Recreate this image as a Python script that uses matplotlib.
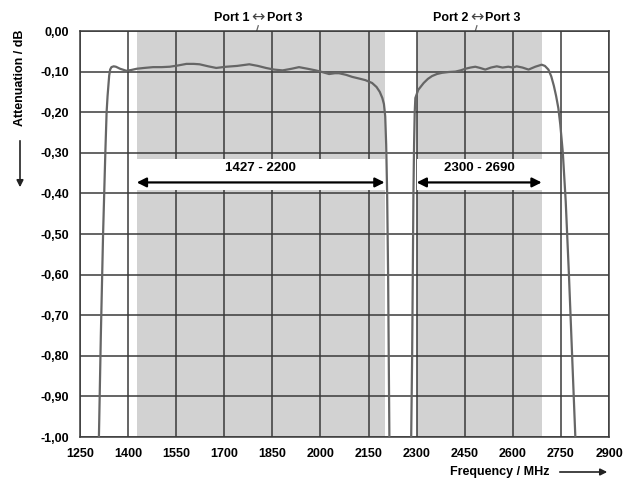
import matplotlib
matplotlib.use("Agg")
import matplotlib.pyplot as plt
from matplotlib.patches import Rectangle, FancyArrowPatch

plt.rcParams['font.family'] = ['Liberation Sans', 'DejaVu Sans']

# ---------------- data ----------------
x_ticks = [1250, 1400, 1550, 1700, 1850, 2000, 2150, 2300, 2450, 2600, 2750, 2900]
y_ticks = [0.0, -0.1, -0.2, -0.3, -0.4, -0.5, -0.6, -0.7, -0.8, -0.9, -1.0]
y_tick_labels = ["0,00", "-0,10", "-0,20", "-0,30", "-0,40", "-0,50",
                 "-0,60", "-0,70", "-0,80", "-0,90", "-1,00"]

band1 = (1427, 2200)
band2 = (2300, 2690)
band_labels = ["1427 - 2200", "2300 - 2690"]
port_left = ["Port 1", "Port 2"]
port_right = ["Port 3", "Port 3"]

freq1 = [1309, 1315, 1322, 1329, 1333, 1336, 1339, 1341, 1344, 1348, 1355, 1362,
         1375, 1395, 1410, 1427, 1450, 1478, 1505, 1530, 1555, 1582, 1605, 1623,
         1650, 1675, 1706, 1740, 1778, 1805, 1830, 1855, 1882, 1910, 1933, 1960,
         1985, 2005, 2027, 2045, 2058, 2080, 2099, 2120, 2140, 2161, 2175, 2185,
         2193, 2198, 2202, 2205, 2208, 2211, 2213, 2215]
att1 = [-1.0, -0.75, -0.5, -0.3, -0.2, -0.16, -0.13, -0.11, -0.095, -0.089, -0.087, -0.088,
        -0.093, -0.098, -0.096, -0.093, -0.091, -0.089, -0.089, -0.088, -0.085, -0.081, -0.081, -0.082,
        -0.087, -0.091, -0.088, -0.086, -0.082, -0.086, -0.091, -0.095, -0.097, -0.093, -0.089, -0.093,
        -0.097, -0.101, -0.106, -0.104, -0.104, -0.108, -0.113, -0.117, -0.121, -0.128, -0.138, -0.15,
        -0.165, -0.18, -0.21, -0.28, -0.4, -0.6, -0.8, -1.0]

freq2 = [2283, 2286, 2288, 2290, 2292, 2294, 2296, 2305, 2322, 2335, 2348, 2363, 2379,
         2400, 2421, 2437, 2452, 2468, 2483, 2498, 2514, 2532, 2550, 2568, 2586, 2600,
         2612, 2630, 2649, 2670, 2690, 2700, 2711, 2720, 2728, 2735, 2742, 2748, 2756,
         2765, 2775, 2785, 2795]
att2 = [-1.0, -0.8, -0.6, -0.4, -0.28, -0.2, -0.165, -0.145, -0.128, -0.118, -0.111, -0.106, -0.103,
        -0.101, -0.1, -0.097, -0.093, -0.09, -0.088, -0.091, -0.095, -0.09, -0.087, -0.09, -0.088, -0.09,
        -0.087, -0.09, -0.095, -0.088, -0.083, -0.086, -0.095, -0.112, -0.135, -0.16, -0.19, -0.23, -0.3,
        -0.42, -0.6, -0.8, -1.0]

# ---------------- style ----------------
GRID = "#3a3a3a"
CURVE = "#666666"
SHADE = "#d2d2d2"
band_top, band_bot = -0.315, -0.392
arrow_y, text_y = -0.373, -0.338
FS = 9

fig = plt.figure(figsize=(6.33, 4.84), dpi=100)
ax = fig.add_axes([80 / 633, 1 - 437 / 484, 529 / 633, 406 / 484])
ax.set_xlim(1250, 2900)
ax.set_ylim(-1.0, 0.0)

# shaded passbands
for lo, hi in (band1, band2):
    ax.axvspan(lo, hi, color=SHADE, lw=0, zorder=0)

# grid
ax.set_xticks(x_ticks)
ax.set_yticks(y_ticks)
ax.set_yticklabels(y_tick_labels)
ax.grid(True, color=GRID, lw=1.1, zorder=1)
ax.set_axisbelow(True)
ax.tick_params(length=0, labelsize=FS, pad=8)
for lab in ax.get_xticklabels() + ax.get_yticklabels():
    lab.set_fontweight('bold')
for s in ax.spines.values():
    s.set_color(GRID)
    s.set_linewidth(1.1)

# white band hiding grid behind the range arrows
for lo, hi in (band1, band2):
    ax.add_patch(Rectangle((lo, band_bot), hi - lo, band_top - band_bot,
                           facecolor="white", edgecolor="none", zorder=2))

# curves
ax.plot(freq1, att1, color=CURVE, lw=1.6, zorder=4)
ax.plot(freq2, att2, color=CURVE, lw=1.6, zorder=4)

# range arrows and texts
for (lo, hi), txt in zip((band1, band2), band_labels):
    ax.annotate("", xy=(lo, arrow_y), xytext=(hi, arrow_y),
                arrowprops=dict(arrowstyle="<|-|>", color="black", lw=1.6,
                                mutation_scale=14, shrinkA=0, shrinkB=0),
                zorder=5)
    ax.text((lo + hi) / 2, text_y, txt, ha="center", va="center",
            fontsize=FS + 0.5, fontweight="bold", zorder=5)

# port labels with leader lines
arrow_x = [1806, 2488]
for px, l, r in zip(arrow_x, port_left, port_right):
    ax.annotate("\u2194", xy=(px, 0.032), ha="center", va="center",
                fontsize=FS + 2.5, family=['DejaVu Sans'], color="#444444",
                annotation_clip=False)
    ax.annotate(l, xy=(px, 0.032), xytext=(-6, 0), textcoords="offset points",
                ha="right", va="center", fontsize=FS, fontweight="bold",
                annotation_clip=False)
    ax.annotate(r, xy=(px, 0.032), xytext=(6, 0), textcoords="offset points",
                ha="left", va="center", fontsize=FS, fontweight="bold",
                annotation_clip=False)
    ax.plot([px, px - 5], [0.013, 0.0], color=CURVE, lw=0.9, clip_on=False)

# axis titles with arrows
fig.text(20 / 633, 1 - 78 / 484, "Attenuation / dB", rotation=90,
         ha="center", va="center", fontsize=FS, fontweight="bold")
fig.add_artist(FancyArrowPatch(
    (20 / 633, 1 - 138 / 484), (20 / 633, 1 - 190 / 484),
    transform=fig.transFigure, arrowstyle="-|>", mutation_scale=10,
    color="#222222", lw=1.2))
fig.text(500 / 633, 1 - 472 / 484, "Frequency / MHz", ha="center", va="center",
         fontsize=FS, fontweight="bold")
fig.add_artist(FancyArrowPatch(
    (557 / 633, 1 - 472 / 484), (610 / 633, 1 - 472 / 484),
    transform=fig.transFigure, arrowstyle="-|>", mutation_scale=10,
    color="#222222", lw=1.2))

fig.savefig("out.png", dpi=100, facecolor="white")
